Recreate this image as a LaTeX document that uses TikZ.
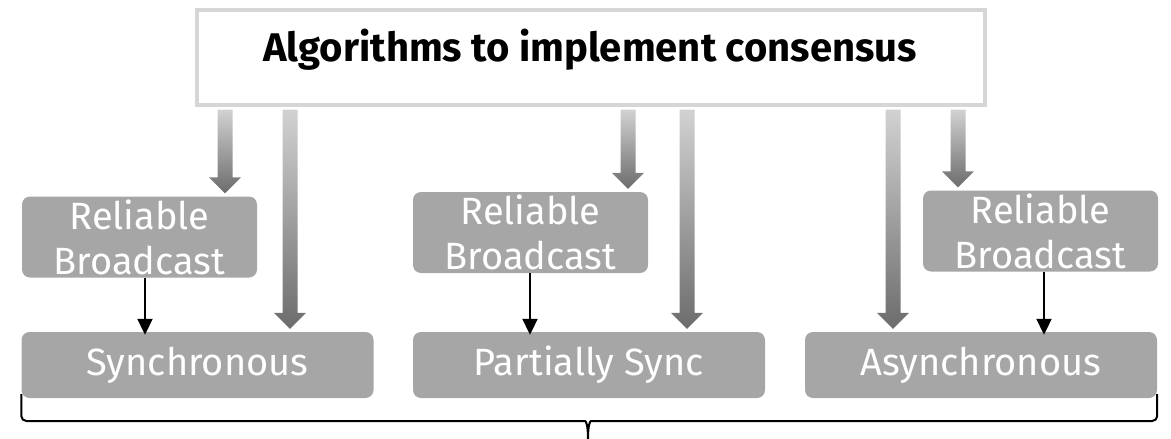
\documentclass[tikz,border=0pt]{standalone}
\usepackage{fontspec}
\setmainfont{Fira Sans}
\usetikzlibrary{arrows.meta,calc}
\definecolor{BoxGray}{HTML}{A6A6A6}
\definecolor{TopBorder}{HTML}{D6D6D6}
\definecolor{ArrTop}{HTML}{D2D2D2}
\definecolor{ArrBot}{HTML}{6C6C6C}
\newcommand\fatarrow[3]{%
  \shade[top color=ArrTop, bottom color=ArrBot]
  let \p1=(#2.south), \p2=(#3.north) in
  ({#1pt-7.5pt},{\y1-3pt}) -- ({#1pt+7.5pt},{\y1-3pt}) --
  ({#1pt+7.5pt},{\y2+19pt}) -- ({#1pt+16pt},{\y2+19pt}) --
  ({#1pt},{\y2+3pt}) -- ({#1pt-16pt},{\y2+19pt}) --
  ({#1pt-7.5pt},{\y2+19pt}) -- cycle;}
\tikzset{
  graybox/.style={rounded corners=8pt, fill=BoxGray, text=white, inner sep=0pt,
    align=center, font=\fontsize{38}{45}\selectfont},
  smallbox/.style={graybox, minimum width=235pt, minimum height=81pt},
  widebox/.style={graybox, minimum width=352pt, minimum height=66pt},
  topbox/.style={draw=TopBorder, line width=4pt, fill=white, minimum width=788pt, minimum height=95pt, inner sep=0pt},
  blackarrow/.style={line width=2pt, -{Triangle[width=15pt,length=16pt]}},
  bracestyle/.style={line width=2pt, line join=round}
}
\begin{document}
\begin{tikzpicture}[x=1pt,y=-1pt]
\useasboundingbox (0,0) rectangle (1171,439);
\node[topbox] (top) at (591,57) {};
\node[font=\fontsize{40}{46}\selectfont\bfseries] (title) at (590,50) {Algorithms to implement consensus};
\node[smallbox] (rb1) at (139.5,237) {Reliable\\Broadcast};
\node[smallbox] (rb2) at (530.5,232.5) {Reliable\\Broadcast};
\node[smallbox] (rb3) at (1040.5,231) {Reliable\\Broadcast};
\node[widebox] (sync) at (197.5,365) {Synchronous};
\node[widebox] (psync) at (589,365) {Partially Sync};
\node[widebox] (async) at (981,365) {Asynchronous};
\fatarrow{225}{top}{rb1}
\fatarrow{290}{top}{sync}
\fatarrow{628}{top}{rb2}
\fatarrow{687}{top}{psync}
\fatarrow{893}{top}{async}
\fatarrow{958}{top}{rb3}
\draw[blackarrow] ([xshift=5.5pt]rb1.south) -- ([xshift=-52.5pt,yshift=-3pt]sync.north);
\draw[blackarrow] ([xshift=-0.5pt]rb2.south) -- ([xshift=-59pt,yshift=-3pt]psync.north);
\draw[blackarrow] ([xshift=3.5pt]rb3.south) -- ([xshift=63pt,yshift=-3pt]async.north);
\coordinate (bl) at ([yshift=4pt]sync.south west);
\coordinate (br) at ([yshift=4pt]async.south east);
\coordinate (tip) at (588,439);
\draw[bracestyle, rounded corners=5pt] (bl) -- (bl |- 0,421) -- (580,421) [sharp corners] .. controls (586,421) and (588,425) .. (tip);
\draw[bracestyle, rounded corners=5pt] (br) -- (br |- 0,421) -- (596,421) [sharp corners] .. controls (590,421) and (588,425) .. (tip);
\end{tikzpicture}
\end{document}
